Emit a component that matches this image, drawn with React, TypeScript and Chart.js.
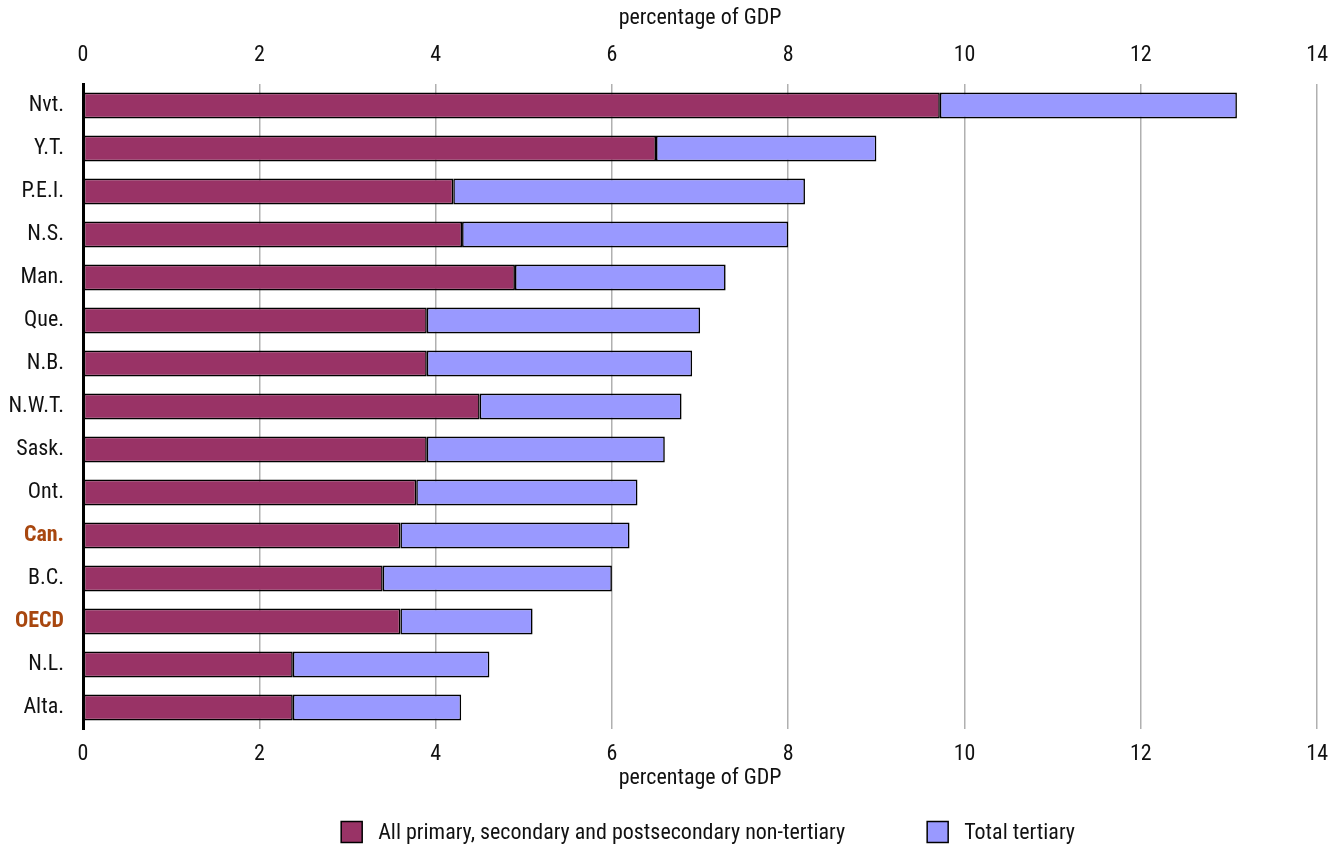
import React, { useEffect, useRef } from "react";
import { Chart, registerables } from "chart.js";

Chart.register(...registerables);

const categories = ["Nvt.", "Y.T.", "P.E.I.", "N.S.", "Man.", "Que.", "N.B.", "N.W.T.", "Sask.", "Ont.", "Can.", "B.C.", "OECD", "N.L.", "Alta."];
const primaryValues = [9.72, 6.5, 4.2, 4.3, 4.9, 3.9, 3.9, 4.5, 3.9, 3.78, 3.6, 3.4, 3.6, 2.38, 2.38];
const tertiaryValues = [3.37, 2.5, 3.99, 3.7, 2.39, 3.1, 3.01, 2.29, 2.7, 2.51, 2.6, 2.6, 1.5, 2.23, 1.91];
const highlighted = ["Can.", "OECD"];
const seriesNames = ["All primary, secondary and postsecondary non-tertiary", "Total tertiary"];
const axisTitle = "percentage of GDP";

const FONT = "Roboto, 'Open Sans', sans-serif";
const FS = 22;
// font-stretch is passed through the weight slot of the canvas font shorthand
const NORMAL = "condensed";
const BOLD = "bold condensed";

const legendPlugin = {
  id: "customLegend",
  afterDraw(chart: any) {
    const ctx = chart.ctx;
    const ds = chart.data.datasets;
    ctx.save();
    ctx.font = `${NORMAL} ${FS}px ${FONT}`;
    ctx.textBaseline = "middle";
    ctx.textAlign = "left";
    const box = 21;
    const gapBoxText = 16;
    const gapItems = 82;
    const widths = ds.map((d: any) => ctx.measureText(d.label).width);
    let total = 0;
    widths.forEach((w: number, i: number) => {
      total += box + gapBoxText + w + (i < widths.length - 1 ? gapItems : 0);
    });
    const ca = chart.chartArea;
    const cx = (ca.left + ca.right) / 2 + 8;
    let x = cx - total / 2;
    const y = chart.height - 15;
    ds.forEach((d: any, i: number) => {
      ctx.fillStyle = d.backgroundColor;
      ctx.fillRect(x, y - box / 2, box, box);
      ctx.lineWidth = 1.5;
      ctx.strokeStyle = "#000";
      ctx.strokeRect(x, y - box / 2, box, box);
      ctx.fillStyle = "#111";
      ctx.fillText(d.label, x + box + gapBoxText, y + 1);
      x += box + gapBoxText + widths[i] + gapItems;
    });
    ctx.restore();
  },
};

export default function App() {
  const ref = useRef<HTMLCanvasElement>(null);
  useEffect(() => {
    if (!ref.current) return;
    const chart = new Chart(ref.current, {
      type: "bar",
      data: {
        labels: categories,
        datasets: [
          {
            label: seriesNames[0],
            data: primaryValues,
            backgroundColor: "#993366",
            borderColor: "#000",
            borderWidth: 1.6,
            borderSkipped: false,
            barPercentage: 0.6,
            categoryPercentage: 1,
            xAxisID: "x",
          },
          {
            label: seriesNames[1],
            data: tertiaryValues,
            backgroundColor: "#9999FF",
            borderColor: "#000",
            borderWidth: 1.6,
            borderSkipped: false,
            barPercentage: 0.6,
            categoryPercentage: 1,
            xAxisID: "x",
          },
        ],
      },
      options: {
        indexAxis: "y",
        animation: false,
        responsive: false,
        maintainAspectRatio: false,
        layout: { padding: { top: 3, right: 23, bottom: 55, left: 0 } },
        plugins: { legend: { display: false }, tooltip: { enabled: false } },
        scales: {
          x: {
            type: "linear",
            position: "bottom",
            stacked: true,
            min: 0,
            max: 14,
            ticks: { stepSize: 2, color: "#111", padding: 12, font: { family: FONT, size: FS, weight: NORMAL as any } },
            grid: {
              drawTicks: false,
              color: (c: any) => (c.tick && c.tick.value === 0 ? "rgba(0,0,0,0)" : "#b0b0b0"),
              lineWidth: 1.5,
            },
            border: { display: false },
            title: { display: true, text: axisTitle, color: "#111", font: { family: FONT, size: FS, weight: NORMAL as any }, padding: { top: 0, bottom: 0 } },
            afterFit: (s: any) => { s.height = 63; },
          },
          x2: {
            type: "linear",
            position: "top",
            min: 0,
            max: 14,
            ticks: { stepSize: 2, color: "#111", padding: 15, font: { family: FONT, size: FS, weight: NORMAL as any } },
            grid: { display: false, drawTicks: false },
            border: { display: false },
            title: { display: true, text: axisTitle, color: "#111", font: { family: FONT, size: FS, weight: NORMAL as any }, padding: { top: 2, bottom: 0 } },
            afterFit: (s: any) => { s.height = 81; },
          },
          y: {
            type: "category",
            stacked: true,
            offset: true,
            grid: { display: false, drawTicks: false },
            border: { display: true, color: "#000", width: 3 },
            ticks: {
              padding: 19,
              color: (c: any) => (highlighted.includes(categories[c.index]) ? "#a8470f" : "#111"),
              font: (c: any) => ({
                family: FONT,
                size: FS,
                weight: (highlighted.includes(categories[c.index]) ? BOLD : NORMAL) as any,
              }),
            },
            afterFit: (s: any) => { s.width = 83; },
          },
        },
      },
      plugins: [legendPlugin],
    });
    return () => chart.destroy();
  }, []);
  return (
    <div style={{ position: "absolute", left: 0, top: 0, width: 1343, height: 847, background: "#fff" }}>
      <canvas ref={ref} width={1343} height={847} style={{ width: 1343, height: 847 }} />
    </div>
  );
}
